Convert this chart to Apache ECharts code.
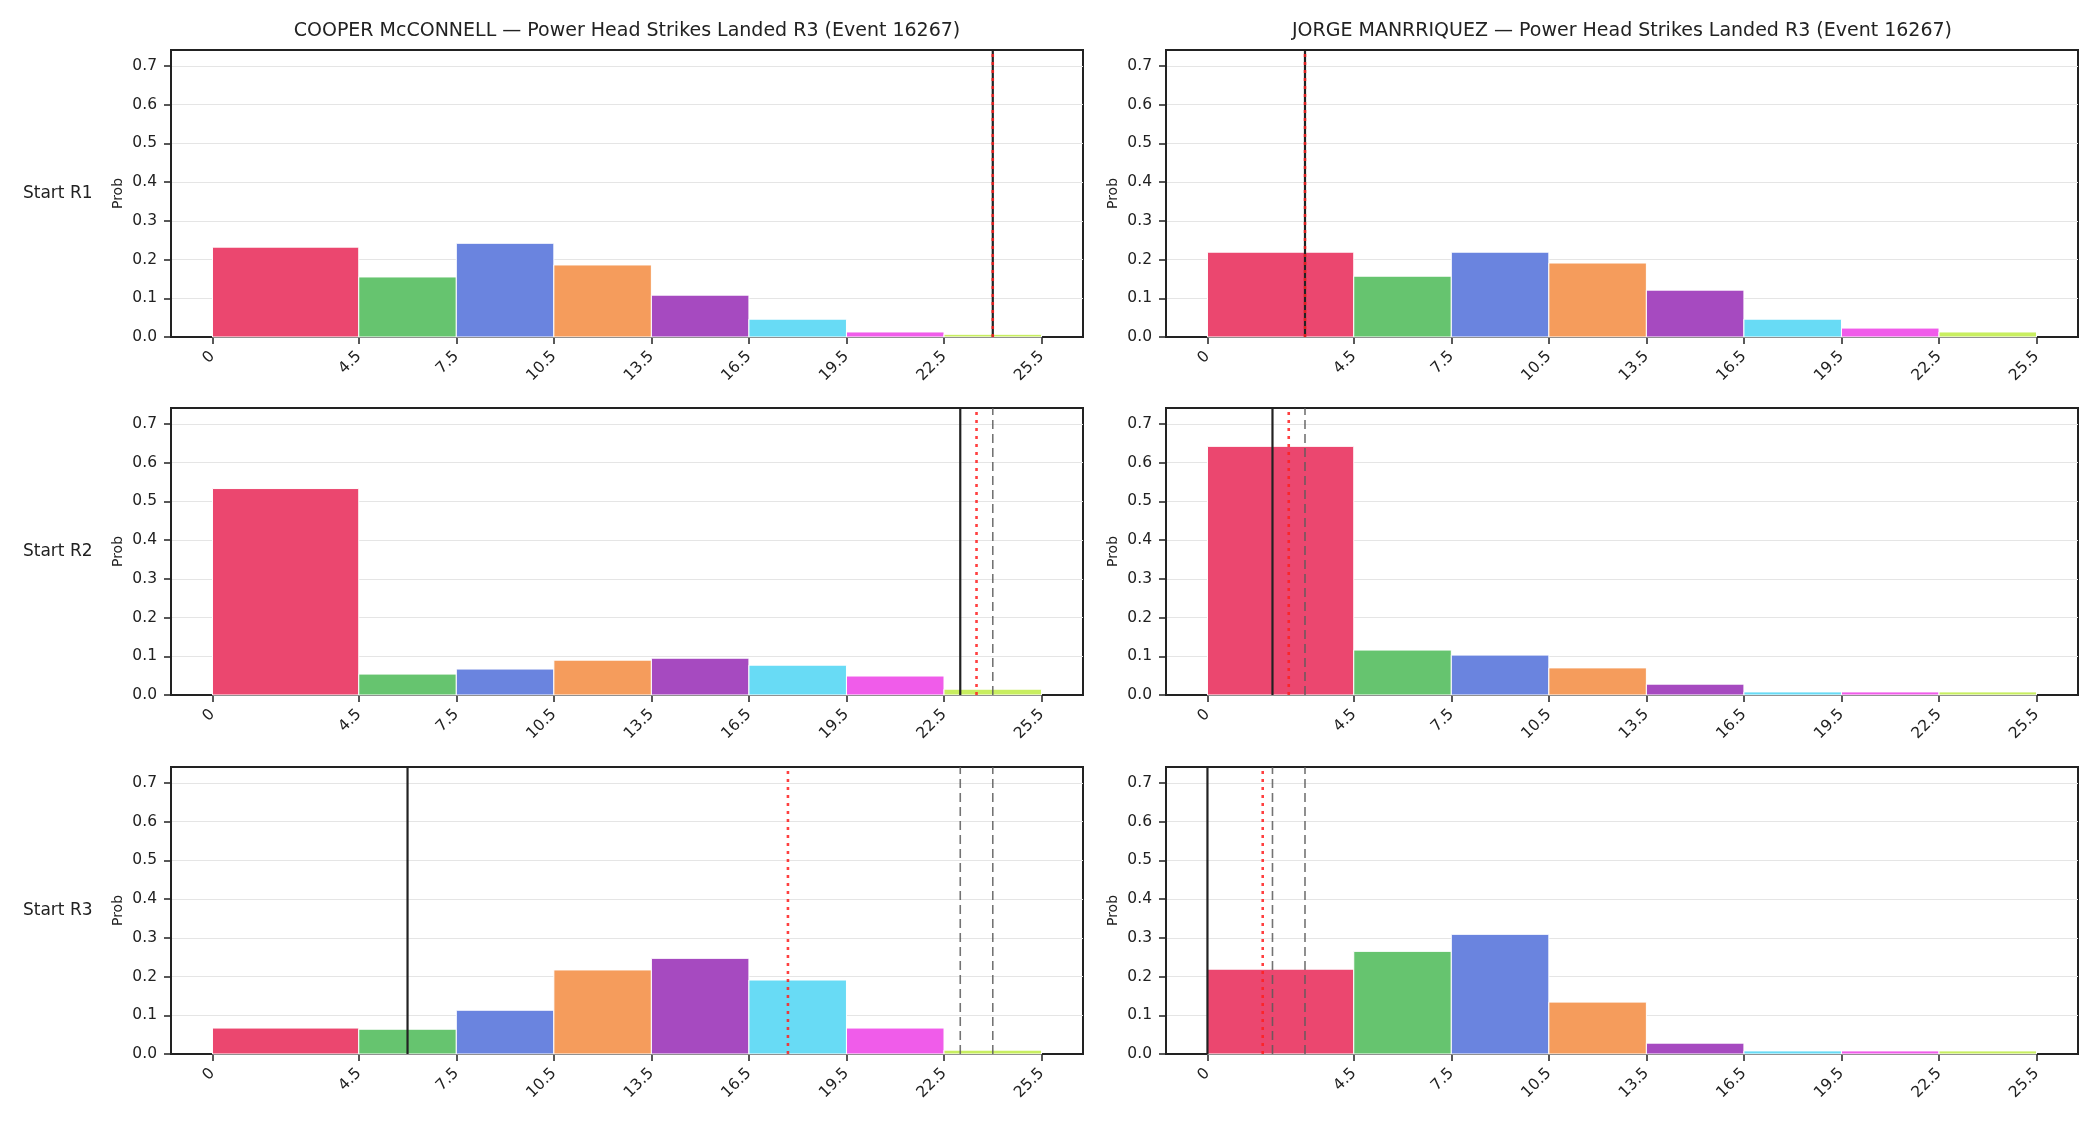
<!DOCTYPE html>
<html>
<head>
<meta charset="utf-8">
<title>Power Head Strikes Landed R3</title>
<script src="https://cdn.jsdelivr.net/npm/echarts@6/dist/echarts.min.js"></script>
<style>
  html, body { margin: 0; padding: 0; background: #fff; }
  #chart { width: 2100px; height: 1125px; }
</style>
</head>
<body>
<div id="chart"></div>
<script>
// histogram bins (first bin is wider)
const binEdges = [0, 4.5, 7.5, 10.5, 13.5, 16.5, 19.5, 22.5, 25.5];
const xTicks = [0, 4.5, 7.5, 10.5, 13.5, 16.5, 19.5, 22.5, 25.5];
const yTicks = [0, 0.1, 0.2, 0.3, 0.4, 0.5, 0.6, 0.7];
const binColors = ['#eb476f', '#66c46f', '#6a84df', '#f59c5c', '#a64ac0', '#68dbf5', '#f05cea', '#c8ee60'];

const fighters = ['COOPER McCONNELL', 'JORGE MANRRIQUEZ'];
const rowLabels = ['Start R1', 'Start R2', 'Start R3'];

// probability per bin
const cooperR1 = [0.232, 0.155, 0.242, 0.186, 0.108, 0.046, 0.013, 0.007];
const cooperR2 = [0.533, 0.054, 0.067, 0.090, 0.095, 0.077, 0.049, 0.015];
const cooperR3 = [0.067, 0.064, 0.113, 0.217, 0.247, 0.191, 0.067, 0.010];
const jorgeR1 = [0.219, 0.157, 0.219, 0.191, 0.121, 0.046, 0.023, 0.013];
const jorgeR2 = [0.642, 0.116, 0.103, 0.070, 0.028, 0.008, 0.008, 0.008];
const jorgeR3 = [0.219, 0.265, 0.309, 0.134, 0.028, 0.008, 0.008, 0.008];

// reference lines: current (solid), mean (dotted), earlier starts (dashed)
const cooperCurrent = [24, 23, 6];
const jorgeCurrent = [3, 2, 0];
const cooperMean = [24, 23.5, 17.7];
const jorgeMean = [3, 2.5, 1.7];
const cooperPrev = [[], [24], [23, 24]];
const jorgePrev = [[], [3], [2, 3]];

const X_MIN = -1.275, X_MAX = 26.775, Y_MAX = 0.741;
const FONT = 'DejaVu Sans';

const probs = [[cooperR1, cooperR2, cooperR3], [jorgeR1, jorgeR2, jorgeR3]];
const current = [cooperCurrent, jorgeCurrent];
const means = [cooperMean, jorgeMean];
const prevs = [cooperPrev, jorgePrev];

const colLeft = [171, 1166];
const plotW = 912;
const rowTop = [50, 408, 767];
const plotH = 287;

const grids = [], xAxes = [], yAxes = [], series = [], graphics = [];

const vline = (x, idx, style, z) => ({
  type: 'line',
  xAxisIndex: idx,
  yAxisIndex: idx,
  data: [[x, 0], [x, Y_MAX]],
  symbol: 'none',
  silent: true,
  animation: false,
  z: z,
  lineStyle: style
});

for (let c = 0; c < 2; c++) {
  for (let r = 0; r < 3; r++) {
    const idx = grids.length;
    grids.push({
      left: colLeft[c], top: rowTop[r], width: plotW, height: plotH,
      show: true, borderColor: '#222', borderWidth: 2, backgroundColor: 'transparent'
    });
    xAxes.push({
      type: 'value', gridIndex: idx, min: X_MIN, max: X_MAX,
      axisLine: { show: true, onZero: false, lineStyle: { color: '#222', width: 2 } },
      axisTick: { show: true, customValues: xTicks, length: 7, lineStyle: { color: '#222', width: 1.5 } },
      axisLabel: {
        customValues: xTicks, rotate: 45, margin: 17, color: '#222',
        fontFamily: FONT, fontSize: 15.5, formatter: v => String(v)
      },
      splitLine: { show: false }
    });
    yAxes.push({
      type: 'value', gridIndex: idx, min: 0, max: Y_MAX, interval: 0.1,
      name: 'Prob', nameLocation: 'middle', nameGap: 46,
      nameTextStyle: { fontFamily: FONT, fontSize: 14, color: '#222' },
      axisLine: { show: true, onZero: false, lineStyle: { color: '#222', width: 2 } },
      axisTick: { show: true, customValues: yTicks, length: 7, lineStyle: { color: '#222', width: 1.5 } },
      axisLabel: {
        customValues: yTicks, margin: 14, color: '#222',
        fontFamily: FONT, fontSize: 15.5, formatter: v => v.toFixed(1)
      },
      splitLine: { show: true, lineStyle: { color: '#e5e5e5', width: 1 } }
    });

    const bins = probs[c][r].map((p, i) => [binEdges[i], binEdges[i + 1], p, i]);
    series.push({
      type: 'custom',
      xAxisIndex: idx,
      yAxisIndex: idx,
      data: bins,
      encode: { x: [0, 1], y: 2 },
      animation: false,
      z: 2,
      renderItem: (params, api) => {
        const p0 = api.coord([api.value(0), 0]);
        const p1 = api.coord([api.value(1), api.value(2)]);
        return {
          type: 'rect',
          shape: { x: p0[0], y: p1[1], width: p1[0] - p0[0], height: p0[1] - p1[1] },
          style: { fill: binColors[api.value(3)], stroke: '#ffffff', lineWidth: 1 }
        };
      }
    });

    prevs[c][r].forEach(x => {
      series.push(vline(x, idx, { color: 'rgba(90,90,90,0.85)', width: 1.6, type: [9, 5] }, 3));
    });
    series.push(vline(current[c][r], idx, { color: '#222', width: 2.2, type: 'solid' }, 4));
    series.push(vline(means[c][r], idx, { color: 'rgba(255,30,30,0.85)', width: 2.6, type: [3, 5] }, 5));

    if (c === 0) {
      graphics.push({
        type: 'text', left: 23, top: rowTop[r] + plotH / 2 - 8,
        style: { text: rowLabels[r], fontFamily: FONT, fontSize: 17, fill: '#222' }
      });
    }
  }
}

const titles = fighters.map((f, c) => ({
  text: f + ' \u2014 Power Head Strikes Landed R3 (Event 16267)',
  left: colLeft[c] + plotW / 2,
  top: 22,
  padding: 0,
  textAlign: 'center',
  textStyle: { fontFamily: FONT, fontSize: 19, fontWeight: 'normal', color: '#222' }
}));

const chart = echarts.init(document.getElementById('chart'), null, { renderer: 'canvas' });
chart.setOption({
  backgroundColor: '#ffffff',
  animation: false,
  title: titles,
  grid: grids,
  xAxis: xAxes,
  yAxis: yAxes,
  series: series,
  graphic: graphics
});
</script>
</body>
</html>
